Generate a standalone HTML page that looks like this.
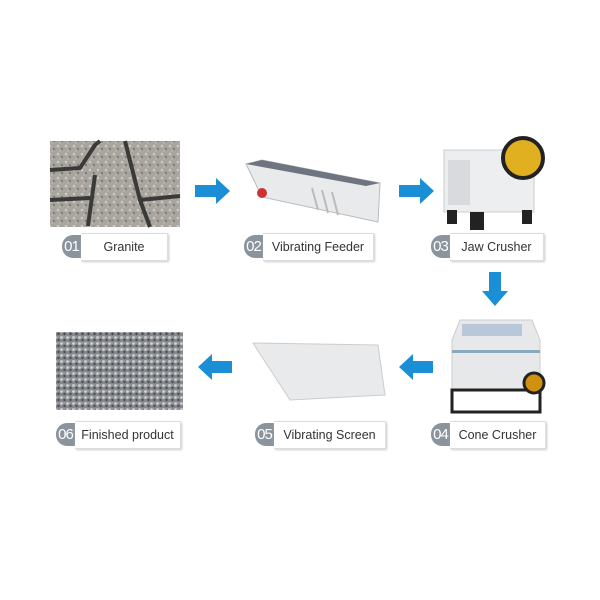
<!DOCTYPE html>
<html><head><style>
body{margin:0;width:600px;height:600px;background:#fff;position:relative;overflow:hidden;font-family:"Liberation Sans",sans-serif}
.lb{position:absolute;height:26px;border:1px solid #ddd;border-left:none;box-shadow:1px 1px 2px #ccc;background:#fff;font-size:12.5px;color:#333;line-height:26px;text-align:center}
.n{position:absolute;width:19px;height:23px;background:#8b949c;border-radius:11px 0 0 11px;color:#fff;font-size:15px;line-height:23px;text-align:center;letter-spacing:-1px}
svg{position:absolute;left:0;top:0}
</style></head><body>
<svg width="600" height="600">
<defs>
<pattern id="g" width="8" height="8" patternUnits="userSpaceOnUse"><rect width="8" height="8" fill="#a8a49e"/><circle cx="2" cy="2" r="1.3" fill="#cfcbc4"/><circle cx="6" cy="5" r="1.1" fill="#7a7874"/><circle cx="4" cy="7" r="1" fill="#bab5ae"/></pattern>
<pattern id="s" width="6" height="6" patternUnits="userSpaceOnUse"><rect width="6" height="6" fill="#85888c"/><circle cx="1.5" cy="1.5" r="1.4" fill="#d2d2d2"/><circle cx="4.5" cy="4" r="1.2" fill="#4a4d52"/><circle cx="4" cy="1" r="0.8" fill="#a8aeb6"/></pattern>
</defs>
<rect x="50" y="141" width="130" height="86" fill="url(#g)"/>
<path d="M50 170 L80 168 L95 145 L100 141 M95 175 L88 226 M125 141 L140 200 L150 227 M140 200 L180 196 M50 200 L90 198" stroke="#3a3a38" stroke-width="4" fill="none"/>
<polygon points="246,164 262,160 380,183 378,222 262,197" fill="#e8eaec" stroke="#bbb"/>
<polygon points="246,164 262,160 380,183 366,186" fill="#6e7480"/>
<circle cx="262" cy="193" r="5" fill="#c33"/>
<path d="M312 188 L318 210 M322 190 L328 213 M332 192 L338 215" stroke="#bbb" stroke-width="2"/>
<rect x="444" y="150" width="90" height="62" fill="#eceef0" stroke="#ccc"/>
<rect x="448" y="160" width="22" height="45" fill="#d8dadd"/>
<circle cx="523" cy="158" r="20" fill="#e0b020" stroke="#222" stroke-width="4"/>
<rect x="447" y="210" width="10" height="14" fill="#222"/><rect x="470" y="212" width="14" height="18" fill="#222"/><rect x="522" y="210" width="10" height="14" fill="#222"/>
<polygon points="460,320 532,320 540,340 540,390 452,390 452,340" fill="#e6e8ea" stroke="#ccc"/>
<rect x="462" y="324" width="60" height="12" fill="#b9c8d8"/>
<rect x="452" y="350" width="88" height="3" fill="#8ab"/>
<rect x="452" y="390" width="88" height="22" fill="none" stroke="#222" stroke-width="3"/>
<circle cx="534" cy="383" r="10" fill="#d09010" stroke="#222" stroke-width="3"/>
<polygon points="253,343 378,345 385,395 290,400" fill="#e9eaeb" stroke="#ccc"/>
<rect x="56" y="332" width="127" height="78" fill="url(#s)"/>
<g fill="#1a8fd6">
<polygon points="195,185 216,185 216,178 230,191 216,204 216,197 195,197"/>
<polygon points="399,185 420,185 420,178 434,191 420,204 420,197 399,197"/>
<polygon points="489,272 501,272 501,291 508,291 495,306 482,291 489,291"/>
<polygon points="232,361 212,361 212,354 198,367 212,380 212,373 232,373"/>
<polygon points="433,361 413,361 413,354 399,367 413,380 413,373 433,373"/>
</g>
</svg>
<div class="n" style="left:62px;top:235px">01</div><div class="lb" style="left:81px;top:233px;width:86px">Granite</div>
<div class="n" style="left:244px;top:235px">02</div><div class="lb" style="left:263px;top:233px;width:110px">Vibrating Feeder</div>
<div class="n" style="left:431px;top:235px">03</div><div class="lb" style="left:450px;top:233px;width:93px">Jaw Crusher</div>
<div class="n" style="left:56px;top:423px">06</div><div class="lb" style="left:75px;top:421px;width:105px">Finished product</div>
<div class="n" style="left:255px;top:423px">05</div><div class="lb" style="left:274px;top:421px;width:111px">Vibrating Screen</div>
<div class="n" style="left:431px;top:423px">04</div><div class="lb" style="left:450px;top:421px;width:95px">Cone Crusher</div>
</body></html>
